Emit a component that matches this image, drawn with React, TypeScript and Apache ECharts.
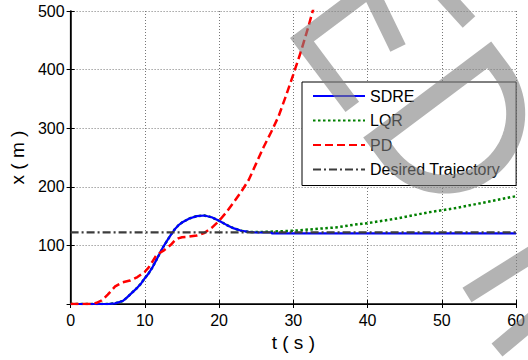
import React, { useEffect, useRef } from "react";
import * as echarts from "echarts";

const FONT = '"Liberation Sans", Arial, Helvetica, sans-serif';

// ---- data ----
const sdreT = [0, 2, 4, 5, 6, 7, 7.5, 8, 9, 9.5, 10, 10.5, 11, 11.5, 12, 12.5, 13, 13.5, 14, 14.5, 15, 16, 17, 18, 19, 20, 21, 22, 23, 24, 25, 26, 27, 27.1, 30, 40, 50, 60];
const sdreX = [0, 0, 0, 0, 1, 5, 10, 16, 28, 35, 44, 52, 62, 74, 86, 98, 108, 118, 127, 134, 139, 146, 150, 151, 148, 142, 135, 129, 125, 123, 122, 122, 122, 120.5, 120.5, 120.5, 120.5, 120.5];

const lqrT = [0, 2, 4, 5, 6, 7, 7.5, 8, 9, 9.5, 10, 10.5, 11, 11.5, 12, 12.5, 13, 13.5, 14, 14.5, 15, 16, 17, 18, 19, 20, 21, 22, 23, 24, 26, 28, 30, 32, 34, 36, 38, 40, 42, 44, 46, 48, 50, 52, 54, 56, 58, 60];
const lqrX = [0, 0, 0, 0, 1, 5, 10, 16, 28, 35, 44, 52, 62, 74, 86, 98, 108, 118, 127, 134, 139, 146, 150, 151, 148, 142, 135, 129, 125, 123, 123, 124, 125, 127, 129, 131, 135, 138, 142, 146, 151, 156, 160, 164, 169, 174, 179, 184];

const pdT = [0, 2, 2.9, 3.5, 4.2, 5, 6, 7, 8, 9, 10, 10.5, 11, 11.5, 12, 12.5, 13, 13.5, 14, 14.5, 15, 16, 17, 18, 19, 20, 21, 22, 23, 24, 25, 26, 27, 28, 29, 30, 31, 32, 33, 34];
const pdX = [0, 0, 0, 2, 6, 16, 30, 37, 40, 46, 55, 62, 72, 82, 87, 91, 96, 101, 108, 112, 114, 115, 117, 121, 130, 142, 157, 174, 192, 212, 240, 268, 293, 320, 355, 392, 430, 472, 518, 565];

const desiredT = [0, 60];
const desiredX = [122.3, 122.3];

const seriesNames = ["SDRE", "LQR", "PD", "Desired Trajectory"];

const pairs = (t: number[], x: number[]) => t.map((v, i) => [v, x[i]]);

// ---- watermark decoration (overlay shapes) ----
function buildLetters(): string {
  const parts: string[] = [];
  parts.push("M381.9,-20.3 L301.9,39.7 L352.3,106.9");
  parts.push("M366,-18 L398,48");
  parts.push("M438,-12 L469,22");
  parts.push("M467,295 L545,246");
  parts.push("M497,350 L545,310");
  return parts.join(" ");
}

function buildD(): string {
  const P0 = [360, 140];
  const V = [0.8, -0.6];
  const N = [0.6, 0.8];
  const tp = (u: number, n: number) => [P0[0] + u * V[0] + n * N[0], P0[1] + u * V[1] + n * N[1]];
  const pts: number[][] = [];
  pts.push(tp(13.5, 9.5));
  pts.push(tp(154.5, 9.5));
  for (let k = 0; k <= 48; k++) {
    const th = (Math.PI * k) / 48;
    pts.push(tp(84 + 70.5 * Math.cos(th), 30 + 70.5 * Math.sin(th)));
  }
  return "M" + pts.map((p) => p[0].toFixed(1) + "," + p[1].toFixed(1)).join(" L") + " Z";
}

let registered = false;
function registerShapes() {
  if (registered) return;
  registered = true;
  echarts.graphic.registerShape("wmLetters", echarts.graphic.extendPath(buildLetters(), {}));
  echarts.graphic.registerShape("wmD", echarts.graphic.extendPath(buildD(), {}));
}

export default function App() {
  const ref = useRef<HTMLDivElement>(null);
  useEffect(() => {
    if (!ref.current) return;
    registerShapes();
    const chart = echarts.init(ref.current, undefined, { renderer: "svg" });
    const axisLine = { show: true, lineStyle: { color: "#000", width: 1.5 } };
    const tick = { show: true, inside: true, length: 4, lineStyle: { color: "#000", width: 1 } };
    const split = { show: true, lineStyle: { color: "#777", type: [1, 2] as any, width: 1 } };
    const label = { color: "#000", fontSize: 16, fontFamily: FONT };
    const wmStyle = { fill: "none", stroke: "rgb(128,128,128)", opacity: 0.6, lineJoin: "miter", lineCap: "butt" };
    chart.setOption({
      animation: false,
      backgroundColor: "#fff",
      textStyle: { fontFamily: FONT },
      grid: { left: 68, right: 7, top: 11, bottom: 56, containLabel: false },
      xAxis: [
        {
          type: "value", min: 0, max: 60, interval: 10, position: "bottom",
          axisLine, axisTick: tick, splitLine: split,
          axisLabel: { ...label, margin: 8, showMaxLabel: true },
          name: "t ( s )", nameLocation: "middle", nameGap: 29,
          nameTextStyle: { color: "#000", fontSize: 19, fontFamily: FONT },
        },
        {
          type: "value", min: 0, max: 60, interval: 10, position: "top",
          axisLine: { show: true, lineStyle: { color: "#000", width: 1.2 } }, axisTick: tick,
          splitLine: { show: false }, axisLabel: { show: false },
        },
      ],
      yAxis: [
        {
          type: "value", min: 0, max: 500, interval: 100, position: "left",
          axisLine, axisTick: tick, splitLine: split,
          axisLabel: { ...label, margin: 6, formatter: (v: number) => (v === 0 ? "" : String(v)) },
          name: "x ( m )", nameLocation: "middle", nameGap: 43,
          nameTextStyle: { color: "#000", fontSize: 19, fontFamily: FONT },
        },
        {
          type: "value", min: 0, max: 500, interval: 100, position: "right",
          axisLine: { show: true, lineStyle: { color: "#000", width: 1.2 } }, axisTick: tick,
          splitLine: { show: false }, axisLabel: { show: false },
        },
      ],
      legend: {
        data: seriesNames,
        orient: "vertical",
        left: 302,
        top: 82,
        itemWidth: 52,
        itemHeight: 16,
        itemGap: 8.5,
        padding: [6, 16, 8, 10],
        borderColor: "#000",
        borderWidth: 1,
        backgroundColor: "#fff",
        itemStyle: { opacity: 0 },
        textStyle: { color: "#000", fontSize: 16, fontFamily: FONT, lineHeight: 16 },
      },
      series: [
        {
          name: "LQR", type: "line", data: pairs(lqrT, lqrX), symbol: "none",
          lineStyle: { color: "#008000", width: 2.5, type: [2.5, 2.5] }, itemStyle: { color: "#008000" },
        },
        {
          name: "SDRE", type: "line", data: pairs(sdreT, sdreX), symbol: "none",
          lineStyle: { color: "#0000ff", width: 2.2, type: "solid" }, itemStyle: { color: "#0000ff" },
        },
        {
          name: "PD", type: "line", data: pairs(pdT, pdX), symbol: "none", clip: true,
          lineStyle: { color: "#ff0000", width: 2.5, type: [8, 4] }, itemStyle: { color: "#ff0000" },
        },
        {
          name: "Desired Trajectory", type: "line", data: pairs(desiredT, desiredX), symbol: "none",
          lineStyle: { color: "#3c3c3c", width: 2.2, type: [8, 3, 2, 3] }, itemStyle: { color: "#3c3c3c" },
        },
      ],
      graphic: [
        { type: "wmLetters", x: 0, y: 0, z: 100, silent: true, style: { ...wmStyle, lineWidth: 17 } },
        { type: "wmD", x: 0, y: 0, z: 100, silent: true, style: { ...wmStyle, lineWidth: 19 } },
      ],
    });
    return () => chart.dispose();
  }, []);
  return <div ref={ref} style={{ position: "fixed", left: 0, top: 0, width: 528, height: 360 }} />;
}
